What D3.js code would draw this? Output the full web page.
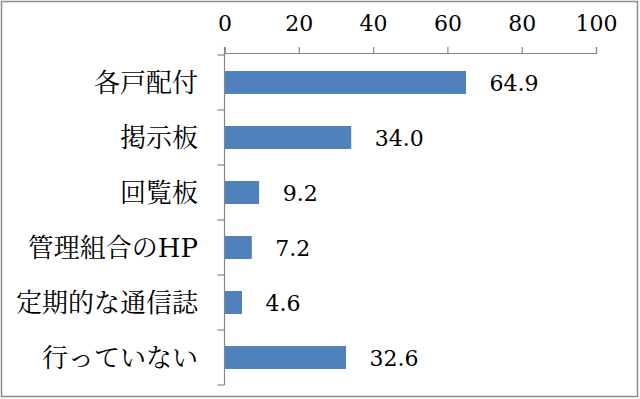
<!DOCTYPE html>
<html><head><meta charset="utf-8">
<script src="https://cdn.jsdelivr.net/npm/d3@7"></script>
<style>html,body{margin:0;padding:0;background:#fff;}</style>
</head><body>
<svg id="c" width="640" height="399"></svg>
<script>
const categories = ["各戸配付","掲示板","回覧板","管理組合のHP","定期的な通信誌","行っていない"];
const values = [64.9, 34.0, 9.2, 7.2, 4.6, 32.6];
const tickValues = [0,20,40,60,80,100];

const svg = d3.select("#c");
const serif = "'DejaVu Serif','Noto Serif CJK JP','Noto Sans CJK JP',serif";
svg.append("rect").attr("x",1.5).attr("y",1.5).attr("width",636).attr("height",395)
  .attr("fill","#fff").attr("stroke","#8c8c8c").attr("stroke-width",1.5);

const x = d3.scaleLinear().domain([0,100]).range([224.5,596]);
const y = d3.scaleBand().domain(categories).range([55,385]).paddingInner(0.6).paddingOuter(0.3);

svg.selectAll("rect.bar").data(values).enter().append("rect").attr("class","bar")
  .attr("x", x(0)).attr("y",(d,i)=>y(categories[i]))
  .attr("width", d=>x(d)-x(0)).attr("height", y.bandwidth())
  .attr("fill","#4f81bd").attr("stroke","#4572a7").attr("stroke-width",0.8);

const xAxis = d3.axisTop(x).tickValues(tickValues).tickSize(6).tickPadding(16).tickFormat(d3.format("d"));
const gx = svg.append("g").attr("transform","translate(0,53)").call(xAxis);
gx.select(".domain").attr("stroke","#868686").attr("stroke-width",1.2);
gx.selectAll(".tick line").attr("stroke","#868686").attr("stroke-width",1.2);
gx.selectAll(".tick text").attr("font-family",serif).attr("font-size",22).attr("fill","#000");

const yBounds = d3.range(categories.length+1).map(i=>55+i*(330/categories.length));
svg.append("line").attr("x1",x(0)).attr("x2",x(0)).attr("y1",47).attr("y2",385)
  .attr("stroke","#868686").attr("stroke-width",1.2);
svg.selectAll("line.yt").data(yBounds).enter().append("line").attr("class","yt")
  .attr("x1",x(0)-7).attr("x2",x(0)).attr("y1",d=>d).attr("y2",d=>d)
  .attr("stroke","#868686").attr("stroke-width",1.2);

svg.selectAll("text.cat").data(categories).enter().append("text").attr("class","cat")
  .attr("x",198).attr("y",d=>y(d)+y.bandwidth()/2).attr("dy","0.36em")
  .attr("text-anchor","end").attr("font-family",serif).attr("font-size",26).attr("fill","#000")
  .text(d=>d);

svg.selectAll("text.val").data(values).enter().append("text").attr("class","val")
  .attr("x",d=>x(d)+24).attr("y",(d,i)=>y(categories[i])+y.bandwidth()/2).attr("dy","0.38em")
  .attr("font-family",serif).attr("font-size",22).attr("fill","#000")
  .text(d=>d.toFixed(1));
</script>
</body></html>
